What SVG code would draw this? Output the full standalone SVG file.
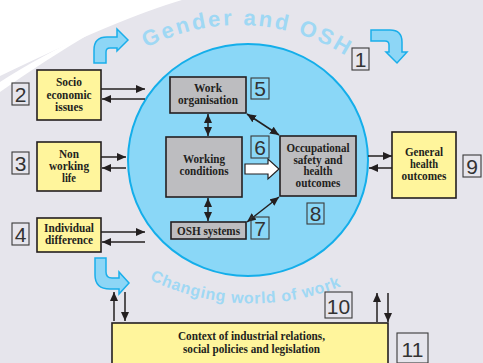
<svg xmlns="http://www.w3.org/2000/svg" width="483" height="363" viewBox="0 0 483 363">
<style>
.yb{fill:#fff59c;stroke:#231f20;stroke-width:1.6}
.gb{fill:#bdbdc0;stroke:#231f20;stroke-width:1.6}
.bt{font-family:"Liberation Serif","Times New Roman",serif;font-weight:bold;font-size:12.5px;fill:#231f20;text-anchor:middle}
.lb{fill:none;stroke:#3a3a3a;stroke-width:1.1}
.ln{font-family:"Liberation Sans",Arial,sans-serif;font-size:21px;fill:#333;text-anchor:middle}
.ar{stroke:#231f20;stroke-width:1.5;fill:none}
.ca{fill:#8dd6f6;stroke:#1aaeea;stroke-width:1.5;stroke-linejoin:miter}
.arc{font-family:"Liberation Sans",Arial,sans-serif;font-weight:bold;fill:#9fd8f4}
</style>
<defs>
<marker id="ah" markerUnits="userSpaceOnUse" markerWidth="9" markerHeight="8" refX="9" refY="4" orient="auto-start-reverse">
<path d="M0,0 L9,4 L0,8 Z" fill="#231f20"/>
</marker>
<path id="arcTop" d="M134,55 A200,200 0 0 1 368,72"/>
<path id="arcBot" d="M132,270 A236,236 0 0 0 374,270"/>
</defs>
<rect x="0" y="0" width="483" height="363" fill="#e6e5ec"/>
<path d="M0,0 H182 Q120,18 0,76 Z" fill="#ffffff"/>
<path d="M96,30 Q40,56 0,82 L0,92 Q42,62 96,30 Z" fill="#ffffff"/>

<g id="circle">
<ellipse cx="248" cy="160" rx="120" ry="116" fill="#8ad7f7" stroke="#14aeea" stroke-width="2"/>
</g>

<g id="titles">
<text class="arc" font-size="22" letter-spacing="2.5"><textPath href="#arcTop" startOffset="14">Gender and OSH</textPath></text>
<text class="arc" font-size="16" letter-spacing="0.7"><textPath href="#arcBot" startOffset="20">Changing world of work</textPath></text>
</g>

<g id="curved-arrows">
<path class="ca" d="M94,63 V50 Q94,37 107,37 H117 V29 L128,40 L117,51 V48 H110 Q106,48 106,52 V63 Z"/>
<path class="ca" d="M371,30 H390 Q402,30 402,42 V52 H407 L397,63 L386,52 H389 V45 Q389,41 385,41 H371 Z"/>
<path class="ca" d="M95,258 H106 V272 Q106,278 112,278 H119 V272 L129,283 L119,294 V289 H110 Q95,289 95,275 Z"/>
</g>

<g id="node-socio">
<rect class="yb" x="37" y="70" width="64" height="50"/>
<text class="bt" x="69" y="86" textLength="26" lengthAdjust="spacingAndGlyphs">Socio</text>
<text class="bt" x="69" y="98.5" textLength="45" lengthAdjust="spacingAndGlyphs">economic</text>
<text class="bt" x="69" y="110.5" textLength="28" lengthAdjust="spacingAndGlyphs">issues</text>
</g>
<g id="node-nonworking">
<rect class="yb" x="37" y="142" width="64" height="49"/>
<text class="bt" x="69" y="158" textLength="20" lengthAdjust="spacingAndGlyphs">Non</text>
<text class="bt" x="69" y="170" textLength="40" lengthAdjust="spacingAndGlyphs">working</text>
<text class="bt" x="69" y="182" textLength="14" lengthAdjust="spacingAndGlyphs">life</text>
</g>
<g id="node-individual">
<rect class="yb" x="37" y="218" width="64" height="34"/>
<text class="bt" x="69" y="232" textLength="50" lengthAdjust="spacingAndGlyphs">Individual</text>
<text class="bt" x="69" y="244" textLength="48" lengthAdjust="spacingAndGlyphs">difference</text>
</g>
<g id="node-workorg">
<rect class="gb" x="170" y="77" width="76" height="36"/>
<text class="bt" x="208" y="92" textLength="28" lengthAdjust="spacingAndGlyphs">Work</text>
<text class="bt" x="208" y="104" textLength="60" lengthAdjust="spacingAndGlyphs">organisation</text>
</g>
<g id="node-workcond">
<rect class="gb" x="166" y="137" width="76" height="60"/>
<text class="bt" x="204" y="163" textLength="42" lengthAdjust="spacingAndGlyphs">Working</text>
<text class="bt" x="204" y="175" textLength="49" lengthAdjust="spacingAndGlyphs">conditions</text>
</g>
<g id="node-osh">
<rect class="gb" x="171" y="222" width="75" height="17"/>
<text class="bt" x="208.5" y="234.5" textLength="63" lengthAdjust="spacingAndGlyphs">OSH systems</text>
</g>
<g id="node-occ">
<rect class="gb" x="280" y="136" width="76" height="60"/>
<text class="bt" x="318" y="152" textLength="63" lengthAdjust="spacingAndGlyphs">Occupational</text>
<text class="bt" x="318" y="163.5" textLength="49" lengthAdjust="spacingAndGlyphs">safety and</text>
<text class="bt" x="318" y="175" textLength="29" lengthAdjust="spacingAndGlyphs">health</text>
<text class="bt" x="318" y="187" textLength="45" lengthAdjust="spacingAndGlyphs">outcomes</text>
</g>
<g id="node-general">
<rect class="yb" x="392" y="132" width="64" height="66"/>
<text class="bt" x="424" y="156" textLength="38" lengthAdjust="spacingAndGlyphs">General</text>
<text class="bt" x="424" y="168" textLength="28" lengthAdjust="spacingAndGlyphs">health</text>
<text class="bt" x="424" y="180" textLength="45" lengthAdjust="spacingAndGlyphs">outcomes</text>
</g>
<g id="node-context">
<rect class="yb" x="112" y="323" width="276" height="50" stroke-width="2"/>
<text class="bt" x="251.5" y="340" textLength="147" lengthAdjust="spacingAndGlyphs">Context of industrial relations,</text>
<text class="bt" x="251.5" y="353" textLength="137" lengthAdjust="spacingAndGlyphs">social policies and legislation</text>
</g>

<g id="connectors">
<line class="ar" x1="101" y1="89" x2="145" y2="89" marker-end="url(#ah)"/>
<line class="ar" x1="145" y1="99" x2="102" y2="99" marker-end="url(#ah)"/>
<line class="ar" x1="101" y1="157" x2="126" y2="157" marker-end="url(#ah)"/>
<line class="ar" x1="126" y1="168" x2="102" y2="168" marker-end="url(#ah)"/>
<line class="ar" x1="101" y1="232" x2="145" y2="232" marker-end="url(#ah)"/>
<line class="ar" x1="145" y1="242" x2="102" y2="242" marker-end="url(#ah)"/>
<line class="ar" x1="368" y1="156" x2="392" y2="156" marker-end="url(#ah)"/>
<line class="ar" x1="392" y1="168" x2="369" y2="168" marker-end="url(#ah)"/>
<line class="ar" x1="208" y1="114" x2="208" y2="136" marker-start="url(#ah)" marker-end="url(#ah)"/>
<line class="ar" x1="208" y1="198" x2="208" y2="221" marker-start="url(#ah)" marker-end="url(#ah)"/>
<line class="ar" x1="247" y1="114" x2="279" y2="135" marker-start="url(#ah)" marker-end="url(#ah)"/>
<line class="ar" x1="279" y1="197" x2="247" y2="222" marker-start="url(#ah)" marker-end="url(#ah)"/>
<path d="M245,164 H268 V159 L279,169 L268,179 V174 H245 Z" fill="#ffffff" stroke="#231f20" stroke-width="1.2"/>
<line class="ar" x1="114" y1="321" x2="114" y2="292" marker-end="url(#ah)"/>
<line class="ar" x1="125" y1="292" x2="125" y2="321" marker-end="url(#ah)"/>
<line class="ar" x1="377" y1="322" x2="377" y2="293" marker-end="url(#ah)"/>
<line class="ar" x1="388" y1="293" x2="388" y2="322" marker-end="url(#ah)"/>
</g>

<g id="labels">
<rect class="lb" x="352" y="48" width="17" height="22"/><text class="ln" x="360.5" y="66.5">1</text>
<rect class="lb" x="12" y="83" width="17" height="22"/><text class="ln" x="20.5" y="101.5">2</text>
<rect class="lb" x="12" y="152" width="17" height="22"/><text class="ln" x="20.5" y="170.5">3</text>
<rect class="lb" x="12" y="223" width="17" height="22"/><text class="ln" x="20.5" y="241.5">4</text>
<rect class="lb" x="251" y="78" width="18" height="21"/><text class="ln" x="260" y="96">5</text>
<rect class="lb" x="251" y="136" width="18" height="22"/><text class="ln" x="260" y="154.5">6</text>
<rect class="lb" x="251" y="217" width="18" height="22"/><text class="ln" x="260" y="235.5">7</text>
<rect class="lb" x="307" y="203" width="17" height="21"/><text class="ln" x="315.5" y="221">8</text>
<rect class="lb" x="463" y="155" width="18" height="22"/><text class="ln" x="472" y="173.5">9</text>
<rect class="lb" x="325" y="292" width="27" height="26"/><text class="ln" x="338.5" y="314" font-size="25">10</text>
<rect class="lb" x="397" y="333" width="31" height="30"/><text class="ln" x="412.5" y="357" font-size="24">11</text>
</g>
</svg>
